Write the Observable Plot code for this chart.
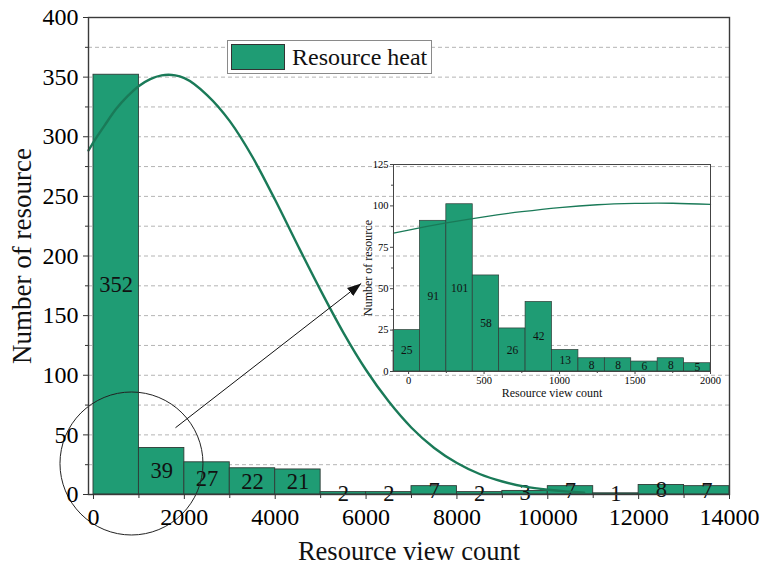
<!DOCTYPE html>
<html>
<head>
<meta charset="utf-8">
<script src="https://cdn.jsdelivr.net/npm/d3@7"></script>
<script src="https://cdn.jsdelivr.net/npm/@observablehq/plot@0.6"></script>
<style>
  html, body { margin: 0; padding: 0; background: #fff; }
  #chart { position: relative; width: 761px; height: 572px; font-family: "Liberation Serif", "DejaVu Serif", serif; }
  #chart svg { position: absolute; overflow: visible; }
  #legend { position: absolute; left: 227px; top: 40px; width: 205px; height: 34px; border: 1px solid #8a8a8a; box-sizing: border-box; background: #fff; }
  #legend .sw { position: absolute; left: 3px; top: 3px; width: 54px; height: 26px; box-sizing: border-box; border: 1px solid #333; }
  #legend .tx { position: absolute; left: 64px; top: 1px; font-size: 24px; line-height: 30px; color: #111; white-space: nowrap; }
</style>
</head>
<body>
<div id="chart"></div>
<script>
// Histogram of resource view counts, bins of 1000 views
const mainBinStart = [0, 1000, 2000, 3000, 4000, 5000, 6000, 7000, 8000, 9000, 10000, 11000, 12000, 13000];
const mainBinEnd   = [1000, 2000, 3000, 4000, 5000, 6000, 7000, 8000, 9000, 10000, 11000, 12000, 13000, 14000];
const mainCounts   = [352, 39, 27, 22, 21, 2, 2, 7, 2, 3, 7, 1, 8, 7];

// Fitted distribution curve over the full range
const mainCurveX = [-110, 0, 250, 500, 750, 1000, 1250, 1500, 1650, 1800, 2000, 2500, 3000, 3500, 4000, 4500, 5000, 5500, 6000, 6500, 7000, 7500, 8000, 8500, 9000, 9500, 10000, 10400, 10800];
const mainCurveY = [288.5, 295.5, 309.8, 323.4, 334.1, 342.6, 348.3, 351.5, 352, 351.5, 349.2, 335.0, 313.1, 283.0, 246.9, 208.6, 171.2, 135.8, 104.4, 77.9, 56.0, 39.0, 26.4, 17.2, 10.9, 6.6, 4.0, 2.6, 1.6];

// Detail of the 0-2000 range (finer bins)
const insetBinStart = [-100, 75, 250, 425, 600, 775, 950, 1125, 1300, 1475, 1650, 1825];
const insetBinEnd   = [75, 250, 425, 600, 775, 950, 1125, 1300, 1475, 1650, 1825, 2000];
const insetCounts   = [25, 91, 101, 58, 26, 42, 13, 8, 8, 6, 8, 5];
const insetCurveX = [-100, 0, 250, 500, 750, 1000, 1250, 1500, 1650, 1750, 2000];
const insetCurveY = [83.5, 85.4, 89.7, 93.4, 96.5, 99.0, 100.7, 101.5, 101.7, 101.6, 100.9];

// Axis ticks
const mainXTicks = [0, 2000, 4000, 6000, 8000, 10000, 12000, 14000];
const mainXMinor = [1000, 3000, 5000, 7000, 9000, 11000, 13000];
const mainYTicks = [0, 50, 100, 150, 200, 250, 300, 350, 400];
const mainYMinor = [25, 75, 125, 175, 225, 275, 325, 375];
const insetXTicks = [0, 500, 1000, 1500, 2000];
const insetXMinor = [250, 750, 1250, 1750];
const insetYTicks = [0, 25, 50, 75, 100, 125];
const insetYMinor = [12.5, 37.5, 62.5, 87.5, 112.5];

// Callout: circle around the low range, arrow toward the detail panel
const calloutCircle = [{x: 836, y: 26}];
const calloutArrow = [{x1: 1805, y1: 56, x2: 5893, y2: 177}];

const legendLabel = "Resource heat";
const xTitle = "Resource view count";
const yTitle = "Number of resource";

const barFill = "#1f9c74";
const curveColor = "#1a7a58";
const serif = "Liberation Serif";
const plain = d => String(d);

const mainBins = mainCounts.map((c, i) => ({x1: mainBinStart[i], x2: mainBinEnd[i], count: c}));
const mainCurve = mainCurveX.map((x, i) => ({x, y: mainCurveY[i]}));
const insetBins = insetCounts.map((c, i) => ({x1: insetBinStart[i], x2: insetBinEnd[i], count: c}));
const insetCurve = insetCurveX.map((x, i) => ({x, y: insetCurveY[i]}));

function filledArrowHead(color, context) {
  const m = d3.create("svg:marker")
    .attr("viewBox", "-5 -5 10 10")
    .attr("refX", 5)
    .attr("markerWidth", 14)
    .attr("markerHeight", 14)
    .attr("markerUnits", "userSpaceOnUse")
    .attr("orient", "auto")
    .attr("fill", color)
    .attr("stroke", "none");
  m.append("path").attr("d", "M-5,-3.6L5,0L-5,3.6Z");
  return m.node();
}

const main = Plot.plot({
  width: 761,
  height: 572,
  marginLeft: 88,
  marginRight: 32,
  marginTop: 17,
  marginBottom: 78,
  style: {fontFamily: serif, background: "transparent", overflow: "visible"},
  x: {domain: [-110, 14000]},
  y: {domain: [0, 400]},
  marks: [
    Plot.gridY([...mainYTicks, ...mainYMinor].filter(v => v > 0 && v < 400), {stroke: "#b4b4b4", strokeOpacity: 1, strokeDasharray: "4,3"}),
    Plot.rectY(mainBins, {x1: "x1", x2: "x2", y: "count", fill: barFill, stroke: "#2e3b36", strokeWidth: 0.9}),
    Plot.text(mainBins, {x: d => (d.x1 + d.x2) / 2, y: d => d.count / 2, text: d => String(d.count), fontSize: 22.5, fill: "#111", lineAnchor: "middle"}),
    Plot.line(mainCurve, {x: "x", y: "y", curve: "monotone-x", stroke: curveColor, strokeWidth: 2.4}),
    Plot.dot(calloutCircle, {x: "x", y: "y", r: 71.5, stroke: "#222", strokeWidth: 1, fill: "none"}),
    Plot.link(calloutArrow, {x1: "x1", y1: "y1", x2: "x2", y2: "y2", stroke: "#111", strokeWidth: 1, markerEnd: filledArrowHead}),
    Plot.frame({stroke: "#3a3a3a", strokeWidth: 1.4}),
    Plot.axisX({ticks: mainXTicks, tickFormat: plain, tickSize: 5, tickPadding: 8, fontSize: 24, label: null, stroke: "#333"}),
    Plot.axisX({ticks: mainXMinor, tickSize: 4, text: null, label: null, stroke: "#333"}),
    Plot.axisY({ticks: mainYTicks, tickFormat: plain, tickSize: 5, tickPadding: 5, fontSize: 24, label: null, stroke: "#333"}),
    Plot.axisY({ticks: mainYMinor, tickSize: 3, text: null, label: null, stroke: "#333"}),
    Plot.text([xTitle], {frameAnchor: "bottom", dy: 57, text: d => d, fontSize: 26.5, fill: "#111", textAnchor: "middle", lineAnchor: "middle"}),
    Plot.text([yTitle], {frameAnchor: "left", dx: -66, rotate: -90, text: d => d, fontSize: 27, fill: "#111", textAnchor: "middle", lineAnchor: "middle"})
  ]
});
main.style.left = "0px";
main.style.top = "0px";

const inset = Plot.plot({
  width: 380,
  height: 250,
  marginLeft: 53,
  marginRight: 10,
  marginTop: 14,
  marginBottom: 29,
  style: {fontFamily: serif, background: "transparent", overflow: "visible"},
  x: {domain: [-100, 2000]},
  y: {domain: [0, 125]},
  marks: [
    Plot.rectY(insetBins, {x1: "x1", x2: "x2", y: "count", fill: barFill, stroke: "#2e3b36", strokeWidth: 0.7}),
    Plot.text(insetBins, {x: d => (d.x1 + d.x2) / 2, y: d => d.count / 2, text: d => String(d.count), fontSize: 11.5, fill: "#111", lineAnchor: "middle"}),
    Plot.line(insetCurve, {x: "x", y: "y", curve: "monotone-x", stroke: curveColor, strokeWidth: 1.3}),
    Plot.frame({stroke: "#444", strokeWidth: 1}),
    Plot.axisX({ticks: insetXTicks, tickFormat: plain, tickSize: 3, tickPadding: 2, fontSize: 10.5, label: null, stroke: "#444"}),
    Plot.axisX({ticks: insetXMinor, tickSize: 2, text: null, label: null, stroke: "#444"}),
    Plot.axisY({ticks: insetYTicks, tickFormat: plain, tickSize: 3, tickPadding: 2, fontSize: 10.5, label: null, stroke: "#444"}),
    Plot.axisY({ticks: insetYMinor, tickSize: 2, text: null, label: null, stroke: "#444"}),
    Plot.text([xTitle], {frameAnchor: "bottom", dy: 22, text: d => d, fontSize: 12, fill: "#111", textAnchor: "middle", lineAnchor: "middle"}),
    Plot.text([yTitle], {frameAnchor: "left", dx: -25, rotate: -90, text: d => d, fontSize: 12, fill: "#111", textAnchor: "middle", lineAnchor: "middle"})
  ]
});
inset.style.left = "340px";
inset.style.top = "150px";

const chart = document.getElementById("chart");
chart.appendChild(main);
chart.appendChild(inset);

const legend = document.createElement("div");
legend.id = "legend";
const sw = document.createElement("div");
sw.className = "sw";
sw.style.background = barFill;
const tx = document.createElement("div");
tx.className = "tx";
tx.textContent = legendLabel;
legend.appendChild(sw);
legend.appendChild(tx);
chart.appendChild(legend);
</script>
</body>
</html>
